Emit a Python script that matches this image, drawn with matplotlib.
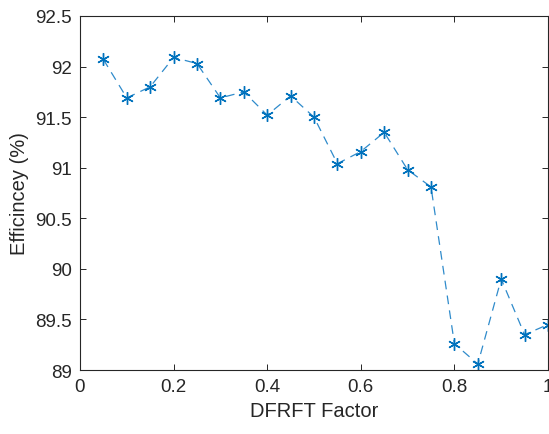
import numpy as np
import matplotlib.pyplot as plt

plt.rcParams['font.family'] = ['Liberation Sans', 'DejaVu Sans']

# DFRFT factor vs efficiency
factor = [0.05, 0.10, 0.15, 0.20, 0.25, 0.30, 0.35, 0.40, 0.45, 0.50,
          0.55, 0.60, 0.65, 0.70, 0.75, 0.80, 0.85, 0.90, 0.95, 1.00]
efficiency = [92.07, 91.69, 91.80, 92.09, 92.03, 91.69, 91.75, 91.52, 91.71, 91.50,
              91.04, 91.16, 91.35, 90.98, 90.81, 89.26, 89.06, 89.90, 89.35, 89.45]

x_ticks = [0, 0.2, 0.4, 0.6, 0.8, 1]
x_labels = ['0', '0.2', '0.4', '0.6', '0.8', '1']
y_ticks = [89, 89.5, 90, 90.5, 91, 91.5, 92, 92.5]
y_labels = ['89', '89.5', '90', '90.5', '91', '91.5', '92', '92.5']

fig = plt.figure(figsize=(5.49, 4.35), dpi=100)
ax = fig.add_axes([0.1457, 0.147, 0.8525, 0.814])

ax.plot(factor, efficiency, linestyle=(0, (7, 5)), color='#2F8BCB', linewidth=0.9,
        marker=(6, 2, 0), markersize=9, markeredgewidth=1.0,
        markeredgecolor='#0072BD')

ax.set_xlim(0, 1)
ax.set_ylim(89, 92.5)
ax.set_xticks(x_ticks)
ax.set_xticklabels(x_labels)
ax.set_yticks(y_ticks)
ax.set_yticklabels(y_labels)

ax.tick_params(direction='in', top=True, right=True, labelsize=13.5,
               colors='#262626', length=4, width=0.7, pad=6)
for s in ax.spines.values():
    s.set_color('#262626')
    s.set_linewidth(0.8)

ax.set_xlabel('DFRFT Factor', fontsize=14.5, color='#262626')
ax.set_ylabel('Efficincey (%)', fontsize=14.5, color='#262626')

fig.savefig('out.png', dpi=100)
